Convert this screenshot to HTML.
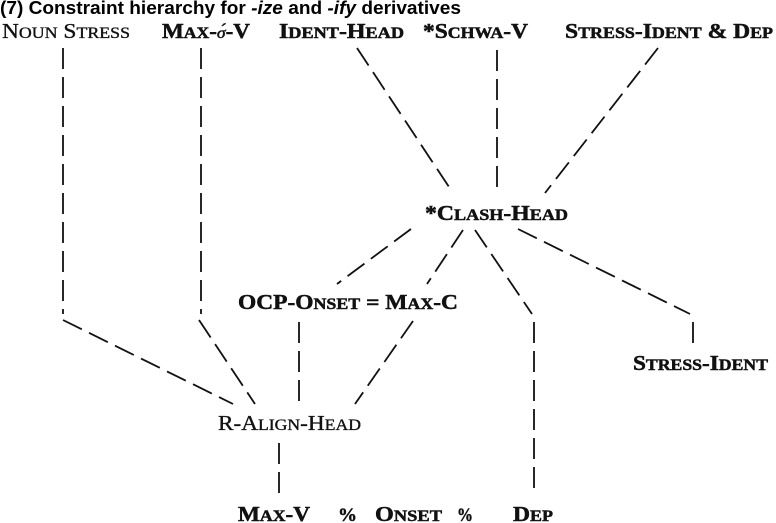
<!DOCTYPE html>
<html>
<head>
<meta charset="utf-8">
<style>
  html, body { margin: 0; padding: 0; background: #fff; }
  svg { display: block; }
  .t { font-family: "Liberation Serif", "DejaVu Serif", serif; fill: #111; stroke: #111; stroke-width: 0.35; }
  .b { font-weight: bold; stroke-width: 0.5; }
  .sc { font-size: 16px; }
  .ttl { font-family: "Liberation Sans", "DejaVu Sans", sans-serif; font-weight: bold; font-size: 18px; fill: #000; }
  line { stroke: #111; stroke-width: 1.8; stroke-dasharray: 21 8; fill: none; }
</style>
</head>
<body>
<svg width="776" height="523" viewBox="0 0 776 523" xmlns="http://www.w3.org/2000/svg">
  <rect width="776" height="523" fill="#fff"/>

  <text class="ttl" x="0" y="14" textLength="461" lengthAdjust="spacingAndGlyphs">(7) Constraint hierarchy for <tspan font-style="italic">-ize</tspan> and <tspan font-style="italic">-ify</tspan> derivatives</text>

  <!-- Row 1 -->
  <text class="t" x="2" y="38" font-size="21" textLength="128" lengthAdjust="spacingAndGlyphs">N<tspan class="sc">OUN</tspan> S<tspan class="sc">TRESS</tspan></text>
  <text class="t b" x="162" y="38" font-size="21" textLength="88" lengthAdjust="spacingAndGlyphs">M<tspan class="sc">AX</tspan>-<tspan font-style="italic" font-weight="normal" class="sc">σ́</tspan>-V</text>
  <text class="t b" x="279" y="38" font-size="21" textLength="125" lengthAdjust="spacingAndGlyphs">I<tspan class="sc">DENT</tspan>-H<tspan class="sc">EAD</tspan></text>
  <text class="t b" x="423" y="38" font-size="21" textLength="105" lengthAdjust="spacingAndGlyphs">*S<tspan class="sc">CHWA</tspan>-V</text>
  <text class="t b" x="565" y="38" font-size="21" textLength="208" lengthAdjust="spacingAndGlyphs">S<tspan class="sc">TRESS</tspan>-I<tspan class="sc">DENT</tspan> &amp; D<tspan class="sc">EP</tspan></text>

  <!-- Clash head -->
  <text class="t b" x="425" y="220" font-size="21" textLength="143" lengthAdjust="spacingAndGlyphs">*C<tspan class="sc">LASH</tspan>-H<tspan class="sc">EAD</tspan></text>

  <!-- OCP -->
  <text class="t b" x="238" y="309" font-size="21" textLength="220" lengthAdjust="spacingAndGlyphs">OCP-O<tspan class="sc">NSET</tspan> = M<tspan class="sc">AX</tspan>-C</text>

  <!-- Stress-Ident -->
  <text class="t b" x="633" y="370" font-size="21" textLength="135" lengthAdjust="spacingAndGlyphs">S<tspan class="sc">TRESS</tspan>-I<tspan class="sc">DENT</tspan></text>

  <!-- R-Align-Head -->
  <text class="t" x="218" y="430" font-size="21" textLength="143" lengthAdjust="spacingAndGlyphs">R-A<tspan class="sc">LIGN</tspan>-H<tspan class="sc">EAD</tspan></text>

  <!-- Bottom row -->
  <text class="t b" x="238" y="521" font-size="21" textLength="72" lengthAdjust="spacingAndGlyphs">M<tspan class="sc">AX</tspan>-V</text>
  <text class="t b" x="338" y="521" font-size="19" textLength="19" lengthAdjust="spacingAndGlyphs">%</text>
  <text class="t b" x="375" y="521" font-size="21" textLength="67" lengthAdjust="spacingAndGlyphs">O<tspan class="sc">NSET</tspan></text>
  <text class="t b" x="457" y="521" font-size="19" textLength="16" lengthAdjust="spacingAndGlyphs">%</text>
  <text class="t b" x="513" y="521" font-size="21" textLength="40" lengthAdjust="spacingAndGlyphs">D<tspan class="sc">EP</tspan></text>

  <!-- Connectors -->
  <line x1="63" y1="48" x2="63" y2="314"/>
  <line x1="63" y1="320" x2="233" y2="404"/>
  <line x1="201" y1="48" x2="201" y2="314"/>
  <line x1="199" y1="320" x2="255" y2="404"/>
  <line x1="357" y1="48" x2="453" y2="193"/>
  <line x1="497" y1="50" x2="497" y2="193"/>
  <line x1="658" y1="48" x2="545" y2="193"/>
  <line x1="411" y1="229" x2="337" y2="284"/>
  <line x1="463" y1="230" x2="427" y2="284"/>
  <line x1="475" y1="230" x2="532" y2="314"/>
  <line x1="518" y1="229" x2="690" y2="314"/>
  <line x1="534" y1="322" x2="534" y2="495"/>
  <line x1="693" y1="322" x2="693" y2="343"/>
  <line x1="299" y1="322" x2="299" y2="405"/>
  <line x1="413" y1="321" x2="355" y2="404"/>
  <line x1="279" y1="443" x2="279" y2="495"/>
</svg>
</body>
</html>
